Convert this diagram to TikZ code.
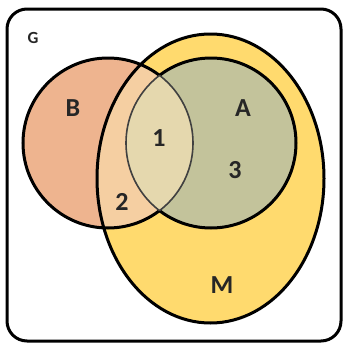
\documentclass[tikz,border=0pt]{standalone}
\usepackage{fontspec}
\setmainfont{Carlito}
\definecolor{setM}{HTML}{FFDA6E}
\definecolor{setB}{HTML}{EEB48F}
\definecolor{setA}{HTML}{C3C39B}
\definecolor{partone}{HTML}{E5D8AE}
\definecolor{parttwo}{HTML}{F5CFA2}
\definecolor{labeltext}{HTML}{262626}
\begin{document}
\begin{tikzpicture}[x=1pt,y=-1pt,
    outline/.style={line width=3pt,black},
    lensline/.style={line width=1.6pt,black!75},
    setlabel/.style={font=\bfseries\fontsize{26}{26}\selectfont,text=labeltext,inner sep=0pt}]
\useasboundingbox (0,0) rectangle (343,343);

% the sets
\def\circB{(108,143) circle (85pt)}
\def\circA{(211,143) circle (85pt)}
\def\ellM{(210.5,178.5) ellipse [x radius=113.5pt, y radius=144.5pt]}

% universe
\draw[outline,rounded corners=20pt] (7,9) rectangle (341,341);

% fills
\fill[setM] \ellM;
\fill[setB] \circB;
\fill[setA] \circA;
\begin{scope}
  \clip \circB;
  \fill[parttwo] \ellM;
  \fill[partone] \circA;
\end{scope}

% outlines
\draw[outline] \ellM;
\begin{scope}[even odd rule]
  \clip (0,0) rectangle (343,343) \circB;
  \draw[outline] \circA;
\end{scope}
\begin{scope}[even odd rule]
  \clip (0,0) rectangle (343,343) \circA;
  \draw[outline] \circB;
\end{scope}
\begin{scope}
  \clip \circB;
  \draw[lensline] \circA;
\end{scope}
\begin{scope}
  \clip \circA;
  \draw[lensline] \circB;
\end{scope}

% labels
\node[setlabel,font=\bfseries\fontsize{17}{17}\selectfont] (G) at (33,38) {G};
\node[setlabel] (B) at (73,108) {B};
\node[setlabel] (A) at (243,108) {A};
\node[setlabel] (M) at (222,285) {M};
\node[setlabel] (one) at (159,138) {1};
\node[setlabel] (two) at (122,202) {2};
\node[setlabel] (three) at (235,170) {3};
\end{tikzpicture}
\end{document}
